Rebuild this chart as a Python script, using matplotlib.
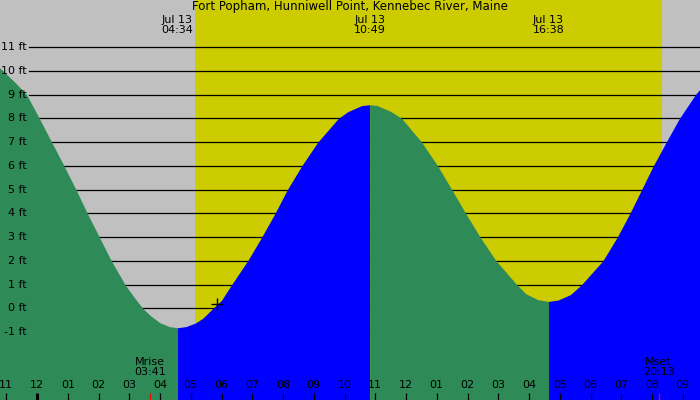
import matplotlib
matplotlib.use("Agg")
import matplotlib.pyplot as plt
import numpy as np

# tide curve, hours after midnight Jul 13 vs height in ft
hours = [-1.25, -1.10, -0.70, -0.336, 0.076, 0.478, 0.878, 1.268, 1.636, 2.026,
         2.416, 2.862, 3.15, 3.437, 3.70, 4.0, 4.3, 4.567, 4.85, 5.15,
         5.4, 5.72, 6.0, 6.33, 6.85, 7.307, 7.74, 8.14, 8.608, 9.128,
         9.797, 10.1, 10.55, 10.817, 11.05, 11.5, 11.86, 12.51, 13.03, 13.49,
         13.94, 14.41, 14.93, 15.60, 15.9, 16.3, 16.633, 16.95, 17.35, 17.71,
         18.40, 18.87, 19.28, 19.66, 20.04, 20.46, 20.89, 21.41, 21.6]
heights = [10.17, 10.0, 9.5, 9.0, 8.0, 7.0, 6.0, 5.0, 4.0, 3.0,
           2.0, 1.0, 0.48, 0.0, -0.32, -0.61, -0.77, -0.82, -0.77, -0.62,
           -0.41, 0.0, 0.34, 1.0, 2.0, 3.0, 4.0, 5.0, 6.0, 7.0,
           8.0, 8.28, 8.54, 8.58, 8.55, 8.30, 8.0, 7.0, 6.0, 5.0,
           4.0, 3.0, 2.0, 1.0, 0.61, 0.36, 0.29, 0.35, 0.58, 1.0,
           2.0, 3.0, 4.0, 5.0, 6.0, 7.0, 8.0, 9.0, 9.3]

# high / low tides
tide_hours = [4.567, 10.817, 16.633]
tide_labels = ["04:34", "10:49", "16:38"]

sunrise = 5.14
sunset = 20.32
moonrise = 3.683
moonset = 20.217
marker_hour, marker_height = 5.84, 0.18

hour_ticks = list(range(-1, 22))
hour_names = ["11", "12", "01", "02", "03", "04", "05", "06", "07", "08", "09", "10",
              "11", "12", "01", "02", "03", "04", "05", "06", "07", "08", "09"]
ft_levels = list(range(-1, 12))

x0, x1 = -37 / 30.75, (700 - 37) / 30.75
y_top, y_bot = 308.3 / 23.73, (308.3 - 400) / 23.73

fig = plt.figure(figsize=(7, 4), dpi=100, facecolor="#C0C0C0")
ax = fig.add_axes([0, 0, 1, 1])
ax.set_facecolor("#C0C0C0")
ax.set_xlim(x0, x1)
ax.set_ylim(y_bot, y_top)
for s in ax.spines.values():
    s.set_visible(False)
ax.set_xticks([])
ax.set_yticks([])

ax.axvspan(sunrise, sunset, color="#CCCC00", lw=0, zorder=0)

# grid lines and labels
px = (x1 - x0) / 700
for lv in ft_levels:
    ax.plot([x0 + 29 * px, x1], [lv, lv], color="black", lw=0.9, zorder=1)
    ax.text(x0 + 27 * px, lv, f"{lv} ft", ha="right", va="center", fontsize=8, zorder=3)

# tide fills, green = falling, blue = rising
t = np.array(hours)
h = np.array(heights)
edges = [t[0]] + tide_hours + [t[-1]]
for i in range(len(edges) - 1):
    m = (t >= edges[i]) & (t <= edges[i + 1])
    rising = h[m][-1] > h[m][0]
    ax.fill_between(t[m], y_bot, h[m], color="#0000FF" if rising else "#2E8B57",
                    lw=0, zorder=2)

ax.plot(marker_hour, marker_height, marker="+", color="black", ms=9, mew=1, zorder=4)

ax.text((x0 + x1) / 2, 12.72, "Fort Popham, Hunniwell Point, Kennebec River, Maine",
        ha="center", va="center", fontsize=8.5)
for th, lab in zip(tide_hours, tide_labels):
    ax.text(th, 11.95, "Jul 13\n" + lab, ha="center", va="center", fontsize=8,
            linespacing=0.95)

# hour axis at the bottom
tick_top = (308.3 - 393) / 23.73
for hr, nm in zip(hour_ticks, hour_names):
    ax.plot([hr, hr], [y_bot, tick_top], color="black", lw=2.2 if hr == 0 else 0.9,
            solid_capstyle="butt", zorder=4)
    ax.text(hr, (308.3 - 385) / 23.73, nm, ha="center", va="center", fontsize=8, zorder=4)

for mh, nm in [(moonrise, "Mrise\n03:41"), (moonset, "Mset\n20:13")]:
    ax.plot([mh, mh], [y_bot, tick_top], color="red", lw=0.9, solid_capstyle="butt", zorder=4)
    ax.text(mh, (308.3 - 367) / 23.73, nm, ha="center", va="center", fontsize=8,
            linespacing=0.95, zorder=4)

fig.savefig("out.png", dpi=100, facecolor="#C0C0C0")
